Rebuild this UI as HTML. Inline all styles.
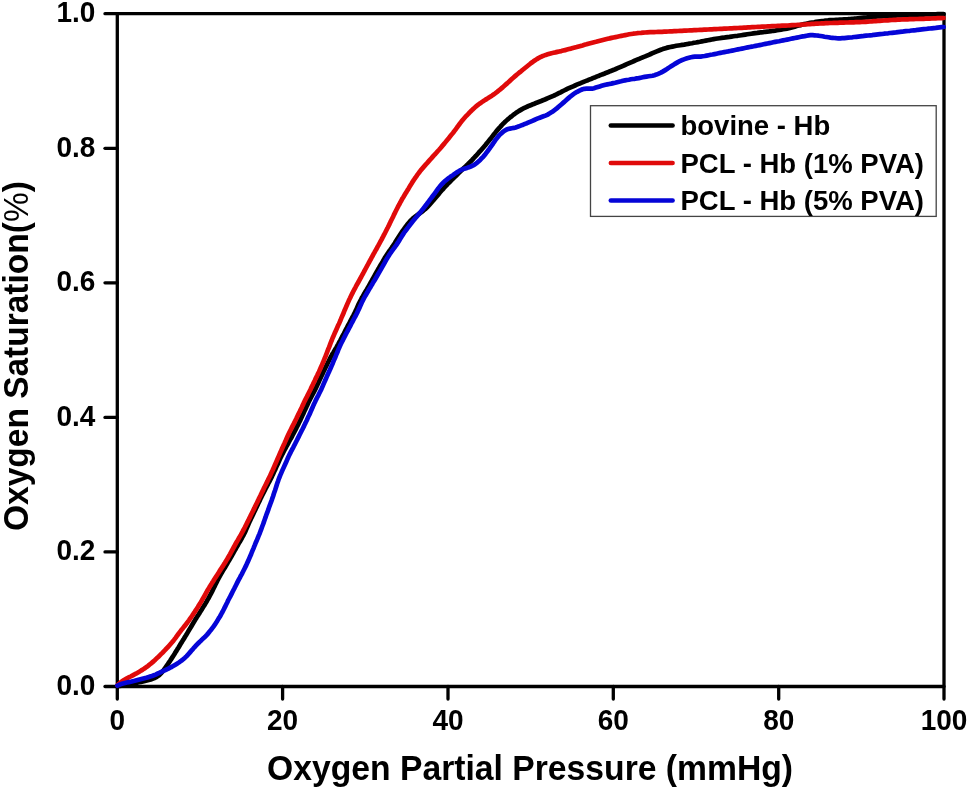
<!DOCTYPE html>
<html><head><meta charset="utf-8"><style>
html,body{margin:0;padding:0;background:#fff;}
svg{display:block;will-change:transform;}
text{font-family:"Liberation Sans",sans-serif;font-weight:bold;fill:#000;}
</style></head><body>
<svg width="968" height="790" viewBox="0 0 968 790">
<rect x="0" y="0" width="968" height="790" fill="#fff"/>
<g stroke="#000" stroke-width="3.3" stroke-linecap="round" fill="none">
<line x1="117.3" y1="686.5" x2="117.3" y2="699"/><line x1="105" y1="686.5" x2="117.3" y2="686.5"/><line x1="282.6" y1="686.5" x2="282.6" y2="699"/><line x1="105" y1="551.9" x2="117.3" y2="551.9"/><line x1="448.0" y1="686.5" x2="448.0" y2="699"/><line x1="105" y1="417.4" x2="117.3" y2="417.4"/><line x1="613.3" y1="686.5" x2="613.3" y2="699"/><line x1="105" y1="282.8" x2="117.3" y2="282.8"/><line x1="778.7" y1="686.5" x2="778.7" y2="699"/><line x1="105" y1="148.3" x2="117.3" y2="148.3"/><line x1="944.0" y1="686.5" x2="944.0" y2="699"/><line x1="105" y1="13.7" x2="117.3" y2="13.7"/>
<rect x="117.3" y="13.7" width="826.7" height="672.8" stroke-linejoin="round"/>
</g>
<g font-size="28"><text transform="translate(117.3,729.6) scale(1,1.07)" text-anchor="middle">0</text><text transform="translate(282.6,729.6) scale(1,1.07)" text-anchor="middle">20</text><text transform="translate(448.0,729.6) scale(1,1.07)" text-anchor="middle">40</text><text transform="translate(613.3,729.6) scale(1,1.07)" text-anchor="middle">60</text><text transform="translate(778.7,729.6) scale(1,1.07)" text-anchor="middle">80</text><text transform="translate(944.0,729.6) scale(1,1.07)" text-anchor="middle">100</text><text transform="translate(95.3,694.7) scale(1,1.07)" text-anchor="end">0.0</text><text transform="translate(95.3,560.1) scale(1,1.07)" text-anchor="end">0.2</text><text transform="translate(95.3,425.6) scale(1,1.07)" text-anchor="end">0.4</text><text transform="translate(95.3,291.0) scale(1,1.07)" text-anchor="end">0.6</text><text transform="translate(95.3,156.5) scale(1,1.07)" text-anchor="end">0.8</text><text transform="translate(95.3,21.9) scale(1,1.07)" text-anchor="end">1.0</text></g>
<g fill="none" stroke-width="4.7" stroke-linecap="round" stroke-linejoin="round">
<path d="M117.4,686.3 L119.4,686.0 L121.3,685.6 L123.3,685.3 L125.3,685.0 L127.3,684.6 L129.2,684.2 L131.2,683.9 L133.1,683.5 L135.1,683.1 L137.1,682.7 L139.0,682.3 L141.0,681.9 L142.9,681.5 L144.9,681.0 L146.8,680.5 L148.8,680.0 L150.7,679.5 L152.5,678.8 L154.4,678.1 L156.1,677.2 L157.8,676.1 L159.3,675.0 L160.7,673.6 L162.0,672.1 L163.3,670.6 L164.5,669.0 L165.6,667.4 L166.8,665.7 L167.9,664.1 L169.0,662.4 L170.1,660.8 L171.2,659.1 L172.3,657.4 L173.4,655.7 L174.5,654.0 L175.5,652.3 L176.6,650.6 L177.6,648.9 L178.7,647.2 L179.7,645.5 L180.7,643.8 L181.8,642.1 L182.8,640.4 L183.9,638.7 L184.9,637.0 L186.0,635.3 L187.0,633.6 L188.0,631.9 L189.1,630.1 L190.1,628.4 L191.1,626.7 L192.1,625.0 L193.1,623.3 L194.2,621.5 L195.2,619.8 L196.3,618.1 L197.3,616.4 L198.4,614.8 L199.5,613.1 L200.5,611.4 L201.6,609.7 L202.6,608.0 L203.7,606.3 L204.8,604.6 L205.8,602.9 L206.8,601.2 L207.8,599.4 L208.8,597.7 L209.7,595.9 L210.7,594.1 L211.6,592.4 L212.5,590.6 L213.4,588.8 L214.3,587.0 L215.1,585.2 L216.0,583.4 L216.9,581.6 L217.8,579.8 L218.7,578.1 L219.7,576.3 L220.7,574.6 L221.7,572.9 L222.7,571.1 L223.7,569.4 L224.8,567.7 L225.8,566.0 L226.8,564.3 L227.8,562.5 L228.9,560.8 L229.9,559.1 L230.9,557.4 L231.9,555.6 L232.9,553.9 L233.8,552.2 L234.8,550.4 L235.8,548.7 L236.8,546.9 L237.8,545.2 L238.7,543.4 L239.8,541.7 L240.8,540.0 L241.8,538.3 L242.7,536.5 L243.7,534.8 L244.6,533.0 L245.4,531.2 L246.2,529.3 L247.0,527.5 L247.8,525.7 L248.6,523.8 L249.4,522.0 L250.3,520.2 L251.1,518.4 L252.0,516.6 L252.9,514.8 L253.7,513.0 L254.6,511.2 L255.5,509.4 L256.3,507.6 L257.2,505.8 L258.0,504.0 L258.9,502.2 L259.8,500.4 L260.6,498.5 L261.5,496.8 L262.4,495.0 L263.3,493.2 L264.2,491.4 L265.1,489.6 L266.0,487.8 L266.9,486.1 L267.9,484.3 L268.8,482.5 L269.8,480.8 L270.7,479.0 L271.6,477.2 L272.4,475.4 L273.3,473.6 L274.1,471.8 L275.0,470.0 L275.8,468.1 L276.6,466.3 L277.5,464.5 L278.3,462.7 L279.5,460.0 L280.4,458.1 L281.3,456.3 L282.1,454.6 L283.1,452.8 L284.0,451.0 L284.9,449.2 L285.9,447.5 L286.8,445.7 L287.8,444.0 L288.8,442.2 L289.7,440.5 L290.7,438.7 L291.7,437.0 L292.6,435.2 L293.6,433.4 L294.5,431.7 L295.4,429.9 L296.3,428.1 L297.2,426.3 L298.1,424.6 L299.0,422.8 L299.9,421.0 L300.7,419.2 L301.6,417.3 L302.4,415.5 L303.3,413.7 L304.1,411.9 L304.9,410.1 L305.8,408.3 L306.6,406.4 L307.5,404.6 L308.3,402.8 L309.2,401.0 L310.1,399.2 L311.0,397.5 L311.9,395.7 L312.9,393.9 L313.8,392.2 L314.7,390.4 L315.6,388.6 L316.5,386.8 L317.3,385.0 L318.2,383.2 L319.0,381.4 L319.8,379.5 L320.7,377.7 L321.5,375.9 L322.4,374.1 L323.2,372.3 L324.1,370.5 L324.9,368.7 L325.8,366.9 L326.7,365.1 L327.6,363.3 L328.5,361.5 L329.4,359.7 L330.3,357.9 L331.3,356.2 L332.2,354.4 L333.3,352.7 L334.3,351.0 L335.3,349.3 L336.3,347.6 L337.3,345.8 L338.3,344.1 L339.2,342.3 L340.2,340.6 L341.1,338.8 L342.0,337.0 L343.0,335.2 L343.9,333.5 L344.8,331.7 L345.7,329.9 L346.7,328.2 L347.6,326.4 L348.5,324.6 L349.5,322.9 L350.4,321.1 L351.3,319.3 L352.3,317.5 L353.2,315.8 L354.1,314.0 L355.0,312.2 L355.9,310.4 L356.7,308.6 L357.5,306.8 L358.3,304.9 L359.2,303.1 L360.1,301.3 L361.0,299.6 L361.9,297.8 L362.9,296.1 L363.9,294.3 L364.9,292.6 L366.0,290.9 L367.0,289.2 L368.0,287.4 L369.0,285.7 L369.9,284.0 L370.9,282.2 L371.9,280.5 L372.9,278.7 L373.9,277.0 L374.8,275.2 L375.8,273.5 L376.8,271.8 L377.8,270.0 L378.8,268.3 L379.8,266.5 L380.8,264.8 L381.8,263.1 L382.8,261.4 L383.8,259.6 L384.8,257.9 L385.9,256.2 L387.0,254.5 L388.1,252.9 L389.2,251.2 L390.4,249.6 L391.5,248.0 L392.6,246.3 L393.8,244.7 L394.9,243.0 L395.9,241.3 L397.0,239.6 L398.1,237.9 L399.1,236.2 L400.2,234.5 L401.3,232.9 L402.4,231.2 L403.6,229.6 L404.8,228.0 L405.9,226.4 L407.1,224.8 L408.4,223.2 L409.7,221.7 L411.0,220.3 L412.5,218.9 L414.0,217.6 L415.5,216.4 L417.1,215.2 L418.8,214.0 L420.4,212.8 L422.0,211.7 L423.5,210.4 L425.1,209.2 L426.6,207.8 L428.0,206.4 L429.3,205.0 L430.6,203.5 L431.9,202.0 L433.2,200.5 L434.5,198.9 L435.8,197.4 L437.1,195.9 L438.4,194.4 L439.7,192.8 L441.0,191.3 L442.3,189.8 L443.7,188.3 L445.0,186.8 L446.4,185.4 L447.7,183.9 L449.2,182.5 L450.6,181.1 L452.0,179.7 L453.4,178.3 L454.9,176.9 L456.3,175.5 L457.7,174.1 L459.1,172.7 L460.5,171.3 L462.0,169.9 L463.4,168.5 L464.8,167.1 L466.3,165.7 L467.7,164.3 L469.1,162.9 L470.6,161.5 L472.0,160.1 L473.3,158.6 L474.7,157.2 L476.1,155.7 L477.4,154.2 L478.7,152.7 L480.1,151.2 L481.4,149.7 L482.7,148.2 L484.0,146.7 L485.3,145.2 L486.6,143.6 L487.8,142.1 L489.1,140.5 L490.3,139.0 L491.6,137.4 L492.8,135.8 L494.0,134.2 L495.3,132.7 L496.5,131.1 L497.8,129.6 L499.1,128.1 L500.5,126.6 L501.8,125.1 L503.2,123.7 L504.6,122.3 L506.1,120.9 L507.5,119.6 L509.1,118.3 L510.6,117.0 L512.2,115.8 L513.8,114.5 L515.4,113.4 L517.0,112.2 L518.7,111.1 L520.4,110.1 L522.1,109.1 L523.9,108.2 L525.7,107.3 L527.5,106.5 L529.3,105.7 L531.2,105.0 L533.0,104.2 L534.9,103.5 L536.7,102.7 L538.6,102.0 L540.5,101.3 L542.3,100.5 L544.2,99.8 L546.0,99.0 L547.9,98.2 L549.7,97.4 L551.5,96.6 L553.4,95.8 L555.2,95.0 L557.0,94.1 L558.8,93.2 L560.6,92.3 L562.3,91.4 L564.1,90.5 L565.9,89.6 L567.7,88.7 L569.5,87.9 L571.3,87.1 L573.2,86.3 L575.0,85.5 L576.8,84.7 L578.7,83.9 L580.5,83.2 L582.4,82.4 L584.2,81.6 L586.1,80.9 L587.9,80.2 L589.8,79.4 L591.7,78.7 L593.5,77.9 L595.4,77.2 L597.2,76.4 L599.1,75.7 L600.9,74.9 L602.8,74.2 L604.7,73.5 L606.5,72.7 L608.4,72.0 L610.2,71.2 L612.1,70.5 L613.9,69.8 L615.8,69.0 L617.6,68.2 L619.5,67.4 L621.3,66.6 L623.1,65.8 L625.0,65.0 L626.8,64.2 L628.6,63.4 L630.4,62.6 L632.3,61.8 L634.1,61.0 L636.0,60.2 L637.8,59.4 L639.6,58.7 L641.5,57.9 L643.3,57.1 L645.2,56.4 L647.0,55.6 L648.9,54.8 L650.7,54.0 L652.5,53.2 L654.4,52.4 L656.2,51.6 L659.0,50.5 L660.8,49.8 L662.7,49.1 L664.6,48.5 L666.5,47.9 L668.5,47.4 L670.4,47.0 L672.4,46.6 L674.3,46.2 L676.3,45.8 L678.3,45.5 L680.2,45.2 L682.2,44.9 L684.2,44.6 L686.2,44.2 L688.1,43.9 L690.1,43.5 L692.1,43.2 L694.0,42.8 L696.0,42.5 L698.0,42.1 L699.9,41.8 L701.9,41.4 L703.9,41.0 L705.8,40.6 L707.8,40.2 L709.8,39.9 L711.7,39.5 L713.7,39.1 L715.7,38.8 L717.6,38.5 L719.6,38.2 L721.6,37.9 L723.6,37.7 L725.6,37.4 L727.5,37.1 L729.5,36.9 L731.5,36.6 L733.5,36.3 L735.5,36.0 L737.5,35.8 L739.4,35.5 L741.4,35.2 L743.4,34.9 L745.4,34.6 L747.3,34.3 L749.3,34.0 L751.3,33.7 L753.3,33.4 L755.3,33.1 L757.2,32.9 L759.2,32.6 L761.2,32.3 L763.2,32.1 L765.2,31.8 L767.2,31.6 L769.1,31.4 L771.1,31.1 L773.1,30.8 L775.1,30.6 L777.1,30.3 L779.0,30.0 L781.0,29.7 L783.0,29.3 L785.0,29.0 L786.9,28.6 L788.9,28.2 L790.8,27.7 L792.8,27.2 L794.7,26.7 L796.6,26.1 L798.5,25.6 L800.5,25.1 L802.4,24.6 L804.3,24.1 L806.3,23.7 L808.2,23.3 L810.2,22.9 L812.2,22.6 L814.2,22.3 L816.1,21.9 L818.1,21.6 L820.1,21.3 L822.1,21.0 L824.0,20.8 L826.0,20.5 L828.0,20.4 L830.0,20.2 L832.0,20.1 L834.0,20.0 L836.0,19.9 L838.0,19.8 L840.0,19.6 L842.0,19.5 L844.0,19.4 L846.0,19.3 L848.0,19.2 L850.0,19.0 L852.0,18.8 L853.9,18.7 L855.9,18.5 L857.9,18.3 L859.9,18.1 L861.9,17.9 L863.9,17.7 L865.9,17.5 L867.9,17.3 L869.9,17.1 L871.9,16.9 L873.9,16.8 L875.9,16.6 L877.8,16.5 L879.8,16.4 L881.8,16.3 L883.8,16.2 L885.8,16.1 L887.8,16.0 L889.8,15.9 L891.8,15.8 L893.8,15.7 L895.8,15.6 L897.8,15.5 L899.8,15.4 L901.8,15.3 L903.8,15.2 L905.8,15.1 L907.8,15.0 L909.8,15.0 L911.8,14.9 L913.8,14.9 L915.8,14.8 L917.8,14.8 L919.8,14.7 L921.8,14.7 L923.8,14.6 L925.8,14.5 L927.8,14.5 L929.8,14.4 L931.8,14.4 L933.8,14.3 L935.8,14.3 L937.8,14.2 L939.7,14.2 L941.7,14.1 L943.6,14.1" stroke="#000"/>
<path d="M117.4,685.2 L118.9,683.9 L120.3,682.6 L121.9,681.4 L123.6,680.3 L125.3,679.3 L127.0,678.3 L128.8,677.4 L130.6,676.5 L132.3,675.6 L134.1,674.6 L135.9,673.7 L137.6,672.7 L139.3,671.7 L141.0,670.6 L142.7,669.6 L144.4,668.5 L146.0,667.3 L147.7,666.2 L149.2,664.9 L150.8,663.7 L152.3,662.4 L153.8,661.1 L155.3,659.7 L156.7,658.3 L158.2,657.0 L159.6,655.6 L161.0,654.2 L162.4,652.8 L163.8,651.3 L165.2,649.9 L166.6,648.4 L168.0,647.0 L169.3,645.5 L170.6,644.0 L171.9,642.5 L173.2,640.9 L174.4,639.4 L175.6,637.8 L176.8,636.1 L178.0,634.5 L179.2,632.9 L180.4,631.3 L181.6,629.7 L182.9,628.2 L184.1,626.6 L185.4,625.1 L186.6,623.5 L187.8,621.9 L189.0,620.3 L190.1,618.7 L191.3,617.0 L192.4,615.4 L193.5,613.7 L194.6,612.1 L195.7,610.4 L196.8,608.7 L197.9,607.0 L198.9,605.3 L200.0,603.6 L201.0,601.9 L202.0,600.2 L203.0,598.4 L204.0,596.7 L205.0,595.0 L205.9,593.2 L206.9,591.5 L207.9,589.7 L209.0,588.0 L210.0,586.3 L211.1,584.6 L212.1,582.9 L213.2,581.2 L214.2,579.5 L215.3,577.8 L216.4,576.2 L217.5,574.5 L218.6,572.8 L219.6,571.1 L220.7,569.4 L221.8,567.7 L222.9,566.1 L223.9,564.4 L225.0,562.7 L226.0,561.0 L227.1,559.3 L228.1,557.5 L229.1,555.8 L230.1,554.1 L231.0,552.3 L232.0,550.5 L232.9,548.8 L233.9,547.0 L234.8,545.3 L235.8,543.5 L236.8,541.8 L237.8,540.1 L238.8,538.3 L239.8,536.6 L240.8,534.9 L241.8,533.1 L242.7,531.4 L243.6,529.6 L244.6,527.8 L245.5,526.0 L246.4,524.2 L247.3,522.4 L248.2,520.7 L249.1,518.9 L250.0,517.1 L250.8,515.3 L251.7,513.5 L252.6,511.7 L253.5,509.9 L254.4,508.1 L255.2,506.3 L256.1,504.5 L257.0,502.7 L257.9,500.9 L258.7,499.1 L259.6,497.3 L260.5,495.5 L261.3,493.7 L262.2,491.9 L263.1,490.1 L263.9,488.3 L264.8,486.5 L265.7,484.7 L266.6,482.9 L267.5,481.1 L268.3,479.3 L269.2,477.5 L270.1,475.7 L270.9,473.9 L271.7,472.1 L272.6,470.3 L273.4,468.5 L274.2,466.6 L275.0,464.8 L275.8,463.0 L276.6,461.1 L277.4,459.3 L278.2,457.4 L279.0,455.6 L279.8,453.8 L280.6,451.9 L281.4,450.1 L282.2,448.3 L283.4,445.6 L284.3,443.7 L285.1,441.9 L285.9,440.1 L286.7,438.3 L287.5,436.4 L288.4,434.6 L289.2,432.8 L290.1,431.0 L291.0,429.2 L291.9,427.4 L292.8,425.6 L293.7,423.9 L294.6,422.1 L295.5,420.3 L296.4,418.5 L297.2,416.7 L298.1,414.9 L299.0,413.1 L299.9,411.3 L300.7,409.5 L301.6,407.7 L302.4,405.9 L303.3,404.1 L304.1,402.2 L305.0,400.4 L305.9,398.6 L306.8,396.9 L307.7,395.1 L308.6,393.3 L309.5,391.5 L310.4,389.7 L311.2,387.9 L312.1,386.1 L313.0,384.3 L313.8,382.5 L314.7,380.7 L315.5,378.9 L316.4,377.1 L317.3,375.3 L318.1,373.5 L319.0,371.7 L319.8,369.8 L320.6,368.0 L321.4,366.2 L322.2,364.4 L323.0,362.5 L323.8,360.7 L324.5,358.8 L325.3,357.0 L326.0,355.1 L326.7,353.2 L327.4,351.4 L328.1,349.5 L328.9,347.6 L329.6,345.8 L330.3,343.9 L331.0,342.0 L331.8,340.2 L332.5,338.3 L333.3,336.5 L334.1,334.6 L334.9,332.8 L335.7,331.0 L336.5,329.2 L337.3,327.3 L338.1,325.5 L339.0,323.7 L339.8,321.9 L340.6,320.0 L341.3,318.2 L342.1,316.3 L342.9,314.5 L343.7,312.7 L344.4,310.8 L345.2,309.0 L346.0,307.1 L346.8,305.3 L347.6,303.4 L348.4,301.6 L349.2,299.8 L350.1,298.0 L350.9,296.2 L351.8,294.4 L352.7,292.6 L353.6,290.8 L354.5,289.1 L355.5,287.3 L356.4,285.5 L357.4,283.8 L358.4,282.0 L359.3,280.3 L360.3,278.5 L361.3,276.8 L362.2,275.0 L363.2,273.3 L364.1,271.5 L365.1,269.7 L366.0,268.0 L367.0,266.2 L367.9,264.5 L368.9,262.7 L369.8,260.9 L370.8,259.2 L371.7,257.4 L372.7,255.7 L373.6,253.9 L374.6,252.2 L375.6,250.4 L376.6,248.7 L377.5,246.9 L378.5,245.2 L379.5,243.4 L380.4,241.7 L381.4,239.9 L382.3,238.1 L383.2,236.4 L384.1,234.6 L385.1,232.8 L386.0,231.0 L386.9,229.2 L387.8,227.5 L388.7,225.7 L389.6,223.9 L390.4,222.1 L391.3,220.3 L392.2,218.5 L393.1,216.7 L393.9,214.9 L394.8,213.1 L395.7,211.3 L396.6,209.5 L397.5,207.7 L398.4,205.9 L399.4,204.2 L400.3,202.4 L401.3,200.7 L402.2,198.9 L403.3,197.2 L404.3,195.5 L405.3,193.8 L406.4,192.1 L407.4,190.4 L408.5,188.7 L409.5,186.9 L410.5,185.2 L411.6,183.5 L412.6,181.8 L413.7,180.2 L414.8,178.5 L416.0,176.9 L417.1,175.2 L418.3,173.6 L419.5,172.0 L420.7,170.4 L422.0,168.9 L423.3,167.4 L424.6,165.9 L425.9,164.4 L427.3,162.9 L428.6,161.4 L429.9,159.9 L431.3,158.4 L432.6,156.9 L433.9,155.4 L435.3,154.0 L436.6,152.5 L437.9,151.0 L439.3,149.5 L440.6,148.0 L441.9,146.4 L443.2,144.9 L444.5,143.4 L445.7,141.9 L447.0,140.3 L448.3,138.8 L449.5,137.2 L450.8,135.6 L452.0,134.1 L453.3,132.5 L454.5,130.9 L455.7,129.3 L456.9,127.7 L458.0,126.1 L459.2,124.5 L460.4,122.9 L461.6,121.3 L462.9,119.7 L464.2,118.2 L465.5,116.7 L466.9,115.3 L468.3,113.9 L469.7,112.4 L471.1,111.0 L472.5,109.6 L474.0,108.3 L475.5,106.9 L477.0,105.7 L478.6,104.4 L480.2,103.3 L481.8,102.1 L483.5,101.0 L485.2,99.9 L486.9,98.9 L488.6,97.8 L490.2,96.8 L491.9,95.7 L493.6,94.5 L495.2,93.4 L496.8,92.2 L498.3,90.9 L499.9,89.7 L501.4,88.4 L502.9,87.1 L504.4,85.7 L505.9,84.4 L507.4,83.1 L508.9,81.7 L510.4,80.4 L511.8,79.0 L513.3,77.7 L514.8,76.4 L516.3,75.1 L517.9,73.8 L519.4,72.5 L521.0,71.3 L522.5,70.0 L524.1,68.7 L525.6,67.5 L527.2,66.2 L528.7,65.0 L530.3,63.7 L531.9,62.5 L533.5,61.3 L535.1,60.2 L536.8,59.1 L538.5,58.1 L540.3,57.2 L542.1,56.3 L543.9,55.6 L545.8,54.9 L547.7,54.3 L549.6,53.7 L551.5,53.2 L553.5,52.8 L555.4,52.4 L557.4,51.9 L559.3,51.5 L561.3,51.1 L563.2,50.6 L565.2,50.1 L567.1,49.6 L569.0,49.1 L571.0,48.6 L572.9,48.0 L574.8,47.5 L576.7,47.0 L578.7,46.4 L580.6,45.9 L582.5,45.4 L584.5,44.8 L586.4,44.3 L588.3,43.7 L590.2,43.2 L592.2,42.7 L594.1,42.2 L596.0,41.8 L598.0,41.3 L599.9,40.8 L601.9,40.3 L603.8,39.8 L605.7,39.3 L607.7,38.8 L609.6,38.4 L611.6,37.9 L613.5,37.5 L615.5,37.1 L617.4,36.7 L619.4,36.3 L621.4,35.9 L623.3,35.5 L625.3,35.1 L627.2,34.7 L629.2,34.3 L631.2,34.0 L633.2,33.7 L635.1,33.5 L637.1,33.2 L639.1,33.0 L641.1,32.9 L643.1,32.7 L645.1,32.5 L647.1,32.4 L650.1,32.2 L652.1,32.1 L654.1,32.1 L656.1,32.0 L658.1,31.9 L660.1,31.8 L662.1,31.8 L664.1,31.7 L666.1,31.6 L668.1,31.5 L670.1,31.4 L672.1,31.3 L674.1,31.2 L676.0,31.1 L678.0,31.0 L680.0,30.9 L682.0,30.8 L684.0,30.7 L686.0,30.6 L688.0,30.5 L690.0,30.4 L692.0,30.3 L694.0,30.2 L696.0,30.1 L698.0,30.0 L700.0,29.9 L702.0,29.8 L704.0,29.7 L706.0,29.6 L708.0,29.5 L710.0,29.4 L712.0,29.3 L714.0,29.2 L716.0,29.1 L718.0,29.0 L720.0,28.9 L722.0,28.8 L724.0,28.7 L726.0,28.6 L728.0,28.5 L730.0,28.4 L732.0,28.3 L734.0,28.2 L736.0,28.1 L738.0,28.0 L740.0,27.9 L742.0,27.8 L744.0,27.7 L746.0,27.6 L748.0,27.4 L750.0,27.3 L752.0,27.2 L753.9,27.1 L755.9,27.0 L757.9,26.9 L759.9,26.8 L761.9,26.7 L763.9,26.6 L765.9,26.5 L767.9,26.4 L769.9,26.3 L771.9,26.2 L773.9,26.1 L775.9,26.0 L777.9,25.9 L779.9,25.8 L781.9,25.7 L783.9,25.6 L785.9,25.6 L787.9,25.5 L789.9,25.3 L791.9,25.2 L793.9,25.1 L795.9,25.0 L797.9,24.9 L799.9,24.8 L801.9,24.6 L803.9,24.5 L805.9,24.4 L807.9,24.2 L809.9,24.1 L811.9,23.9 L813.9,23.8 L815.8,23.7 L817.8,23.6 L819.8,23.5 L821.8,23.4 L823.8,23.3 L825.8,23.2 L827.8,23.1 L829.8,23.0 L831.8,23.0 L833.8,22.9 L835.8,22.8 L837.8,22.8 L839.8,22.7 L841.8,22.6 L843.8,22.6 L845.8,22.5 L847.8,22.5 L849.8,22.4 L851.8,22.3 L853.8,22.3 L855.8,22.2 L857.8,22.1 L859.8,22.1 L861.8,22.0 L863.8,21.9 L865.8,21.8 L867.8,21.7 L869.8,21.5 L871.8,21.4 L873.8,21.2 L875.8,21.1 L877.8,20.9 L879.8,20.8 L881.8,20.7 L883.8,20.5 L885.8,20.4 L887.8,20.3 L889.7,20.1 L891.7,20.0 L893.7,19.9 L895.7,19.8 L897.7,19.7 L899.7,19.6 L901.7,19.5 L903.7,19.4 L905.7,19.3 L907.7,19.3 L909.7,19.2 L911.7,19.1 L913.7,19.1 L915.7,19.0 L917.7,19.0 L919.7,18.9 L921.7,18.9 L923.7,18.8 L925.7,18.7 L927.7,18.7 L929.7,18.6 L931.7,18.5 L933.7,18.4 L935.7,18.3 L937.7,18.2 L939.7,18.2 L941.6,18.1 L943.6,18.0" stroke="#e00a0a"/>
<path d="M117.4,685.6 L119.2,684.8 L121.1,684.1 L123.0,683.5 L124.9,683.0 L126.9,682.5 L128.8,682.1 L130.8,681.7 L132.7,681.2 L134.7,680.8 L136.6,680.3 L138.5,679.8 L140.5,679.3 L142.4,678.8 L144.4,678.3 L146.3,677.8 L148.2,677.2 L150.1,676.6 L152.0,676.0 L153.9,675.3 L155.7,674.6 L157.5,673.7 L159.3,672.8 L161.1,672.0 L162.9,671.1 L164.7,670.3 L166.6,669.5 L168.4,668.6 L170.1,667.7 L171.9,666.8 L173.6,665.8 L175.4,664.7 L177.0,663.7 L178.7,662.6 L180.4,661.4 L182.0,660.3 L183.5,659.0 L185.0,657.7 L186.4,656.3 L187.8,654.8 L189.1,653.4 L190.4,651.9 L191.7,650.3 L193.1,648.8 L194.4,647.3 L195.7,645.9 L197.1,644.4 L198.5,643.0 L199.9,641.6 L201.4,640.2 L202.8,638.8 L204.3,637.5 L205.7,636.1 L207.1,634.6 L208.4,633.1 L209.6,631.5 L210.9,630.0 L212.1,628.4 L213.3,626.8 L214.5,625.2 L215.6,623.5 L216.7,621.8 L217.7,620.1 L218.7,618.4 L219.8,616.7 L220.8,615.0 L221.7,613.2 L222.7,611.5 L223.6,609.7 L224.5,607.9 L225.4,606.1 L226.3,604.3 L227.2,602.5 L228.0,600.7 L228.9,599.0 L229.9,597.2 L230.8,595.4 L231.7,593.6 L232.6,591.8 L233.5,590.0 L234.4,588.3 L235.3,586.5 L236.2,584.7 L237.1,582.9 L238.0,581.1 L238.9,579.4 L239.9,577.6 L240.8,575.8 L241.8,574.1 L242.7,572.3 L243.6,570.5 L244.5,568.7 L245.4,566.9 L246.3,565.1 L247.1,563.3 L247.9,561.5 L248.7,559.7 L249.5,557.8 L250.3,556.0 L251.1,554.2 L251.8,552.3 L252.6,550.4 L253.4,548.6 L254.1,546.7 L254.9,544.9 L255.6,543.0 L256.4,541.2 L257.2,539.4 L258.0,537.5 L258.7,535.7 L259.5,533.8 L260.2,532.0 L260.9,530.1 L261.6,528.2 L262.3,526.3 L263.0,524.5 L263.7,522.6 L264.3,520.7 L265.0,518.8 L265.7,516.9 L266.3,515.0 L267.0,513.1 L267.7,511.3 L268.4,509.4 L269.0,507.5 L269.7,505.6 L270.4,503.7 L271.1,501.9 L271.8,500.0 L272.4,498.1 L273.1,496.2 L273.7,494.3 L274.3,492.4 L275.0,490.5 L275.6,488.6 L276.2,486.7 L276.8,484.8 L277.4,482.9 L278.1,481.0 L278.7,479.1 L279.5,477.3 L280.2,475.4 L281.0,473.6 L281.8,471.7 L282.6,469.9 L283.4,468.1 L284.7,465.3 L285.5,463.5 L286.3,461.7 L287.1,459.9 L287.9,458.0 L288.7,456.2 L289.6,454.4 L290.5,452.6 L291.4,450.8 L292.3,449.1 L293.3,447.3 L294.2,445.5 L295.1,443.8 L296.0,442.0 L296.9,440.2 L297.8,438.4 L298.7,436.6 L299.6,434.8 L300.5,433.0 L301.4,431.2 L302.3,429.5 L303.2,427.7 L304.1,425.9 L304.9,424.1 L305.8,422.3 L306.7,420.5 L307.5,418.6 L308.3,416.8 L309.2,415.0 L310.0,413.2 L310.8,411.4 L311.6,409.5 L312.4,407.7 L313.2,405.9 L314.0,404.0 L314.9,402.2 L315.7,400.4 L316.6,398.6 L317.5,396.8 L318.4,395.1 L319.3,393.3 L320.2,391.5 L321.1,389.7 L321.9,387.9 L322.7,386.1 L323.5,384.2 L324.3,382.4 L325.1,380.5 L325.9,378.7 L326.7,376.9 L327.5,375.0 L328.3,373.2 L329.2,371.4 L330.0,369.6 L330.8,367.8 L331.6,365.9 L332.4,364.1 L333.1,362.2 L333.9,360.4 L334.7,358.5 L335.5,356.7 L336.2,354.9 L337.0,353.0 L337.8,351.2 L338.5,349.3 L339.3,347.5 L340.1,345.6 L341.0,343.8 L341.9,342.0 L342.8,340.3 L343.7,338.5 L344.6,336.7 L345.5,334.9 L346.4,333.2 L347.4,331.4 L348.3,329.6 L349.2,327.9 L350.2,326.1 L351.1,324.3 L352.0,322.5 L353.0,320.8 L353.9,319.0 L354.8,317.2 L355.8,315.5 L356.7,313.7 L357.6,311.9 L358.4,310.1 L359.3,308.3 L360.1,306.4 L360.9,304.6 L361.7,302.8 L362.6,301.0 L363.5,299.2 L364.4,297.5 L365.4,295.7 L366.4,294.0 L367.4,292.3 L368.4,290.5 L369.4,288.8 L370.5,287.1 L371.5,285.4 L372.5,283.7 L373.5,281.9 L374.6,280.2 L375.6,278.5 L376.6,276.8 L377.6,275.0 L378.6,273.3 L379.6,271.6 L380.6,269.9 L381.6,268.1 L382.6,266.4 L383.6,264.6 L384.6,262.9 L385.5,261.2 L386.5,259.4 L387.5,257.7 L388.6,256.0 L389.6,254.3 L390.8,252.7 L391.9,251.0 L393.1,249.4 L394.3,247.8 L395.5,246.2 L396.6,244.6 L397.7,242.9 L398.8,241.2 L399.8,239.5 L400.9,237.8 L401.9,236.1 L403.0,234.4 L404.1,232.7 L405.3,231.1 L406.5,229.5 L407.7,227.9 L408.9,226.3 L410.1,224.8 L411.3,223.2 L412.6,221.6 L413.8,220.1 L415.1,218.5 L416.4,217.0 L417.7,215.4 L419.0,213.9 L420.3,212.4 L421.5,210.8 L422.8,209.3 L424.0,207.7 L425.2,206.1 L426.5,204.5 L427.6,202.9 L428.8,201.3 L430.0,199.7 L431.2,198.1 L432.4,196.5 L433.6,194.9 L434.8,193.3 L436.0,191.7 L437.1,190.1 L438.3,188.4 L439.5,186.9 L440.8,185.3 L442.1,183.8 L443.5,182.4 L445.0,181.0 L446.5,179.8 L448.1,178.5 L449.7,177.4 L451.3,176.2 L453.0,175.1 L454.6,173.9 L456.3,172.8 L457.9,171.7 L459.6,170.7 L461.4,169.8 L463.3,169.1 L465.1,168.5 L467.0,167.9 L468.9,167.2 L470.8,166.5 L472.6,165.7 L474.3,164.7 L475.9,163.6 L477.5,162.4 L479.0,161.0 L480.4,159.7 L481.8,158.2 L483.2,156.8 L484.5,155.2 L485.7,153.7 L486.9,152.1 L488.1,150.5 L489.3,148.9 L490.5,147.2 L491.6,145.6 L492.8,144.0 L493.9,142.3 L495.0,140.7 L496.2,139.0 L497.4,137.5 L498.7,135.9 L500.0,134.5 L501.5,133.2 L503.0,131.9 L504.6,130.7 L506.2,129.7 L508.0,129.0 L509.9,128.6 L511.8,128.2 L513.8,127.9 L515.7,127.4 L517.6,126.8 L519.5,126.1 L521.3,125.4 L523.2,124.7 L525.0,123.9 L526.9,123.2 L528.7,122.4 L530.6,121.6 L532.4,120.8 L534.3,120.0 L536.1,119.2 L537.9,118.4 L539.8,117.7 L541.6,117.0 L543.5,116.3 L545.4,115.6 L547.2,114.8 L548.9,113.9 L550.6,112.8 L552.3,111.8 L553.9,110.6 L555.5,109.4 L557.1,108.1 L558.6,106.8 L560.1,105.5 L561.6,104.2 L563.1,102.9 L564.6,101.6 L566.1,100.2 L567.6,98.9 L569.1,97.6 L570.6,96.3 L572.2,95.1 L573.8,93.9 L575.5,92.8 L577.2,91.8 L579.0,90.9 L580.8,90.0 L582.6,89.3 L584.5,88.8 L586.4,88.7 L588.3,88.7 L590.2,88.7 L592.1,88.6 L594.0,88.2 L595.9,87.6 L597.8,87.0 L599.7,86.4 L601.6,85.8 L603.5,85.3 L605.5,84.8 L607.4,84.4 L609.4,84.0 L611.3,83.6 L613.3,83.1 L615.2,82.7 L617.2,82.2 L619.1,81.7 L621.1,81.3 L623.0,80.8 L625.0,80.4 L626.9,80.0 L628.9,79.7 L630.9,79.3 L632.8,79.0 L634.8,78.8 L636.8,78.4 L638.8,78.1 L640.7,77.7 L642.7,77.3 L644.6,76.9 L646.6,76.6 L648.6,76.3 L650.6,76.0 L652.5,75.7 L654.4,75.2 L656.3,74.6 L658.2,73.8 L660.9,72.6 L662.7,71.6 L664.4,70.6 L666.1,69.6 L667.7,68.5 L669.4,67.4 L671.1,66.3 L672.8,65.2 L674.5,64.1 L676.2,63.1 L677.9,62.1 L679.7,61.2 L681.5,60.3 L683.3,59.6 L685.2,58.9 L687.1,58.2 L689.0,57.7 L690.9,57.2 L692.9,56.9 L694.8,56.7 L696.8,56.7 L698.8,56.7 L700.7,56.6 L702.7,56.3 L704.7,56.0 L706.6,55.6 L708.6,55.2 L710.6,54.8 L712.5,54.5 L714.5,54.1 L716.5,53.7 L718.4,53.3 L720.4,52.9 L722.3,52.5 L724.3,52.1 L726.3,51.7 L728.2,51.4 L730.2,51.0 L732.2,50.6 L734.1,50.2 L736.1,49.8 L738.0,49.4 L740.0,49.0 L742.0,48.6 L743.9,48.2 L745.9,47.8 L747.8,47.4 L749.8,47.0 L751.8,46.6 L753.7,46.3 L755.7,45.9 L757.6,45.5 L759.6,45.1 L761.6,44.7 L763.5,44.3 L765.5,43.9 L767.5,43.5 L769.4,43.1 L771.4,42.7 L773.3,42.3 L775.3,41.9 L777.3,41.5 L779.2,41.2 L781.2,40.8 L783.1,40.4 L785.1,40.0 L787.1,39.6 L789.0,39.2 L791.0,38.8 L792.9,38.4 L794.9,38.0 L796.9,37.6 L798.8,37.2 L800.8,36.8 L802.8,36.4 L804.7,36.1 L806.7,35.7 L808.6,35.4 L810.6,35.2 L812.6,35.2 L814.6,35.3 L816.5,35.5 L818.5,35.7 L820.5,36.0 L822.5,36.3 L824.5,36.7 L826.4,37.0 L828.4,37.3 L830.4,37.6 L832.4,37.8 L834.4,38.0 L836.3,38.2 L838.3,38.3 L840.3,38.3 L842.3,38.2 L844.3,38.1 L846.3,37.9 L848.3,37.7 L850.3,37.5 L852.3,37.3 L854.3,37.0 L856.3,36.8 L858.2,36.6 L860.2,36.4 L862.2,36.2 L864.2,35.9 L866.2,35.7 L868.2,35.5 L870.2,35.3 L872.2,35.1 L874.1,34.8 L876.1,34.6 L878.1,34.4 L880.1,34.2 L882.1,34.0 L884.1,33.7 L886.1,33.5 L888.1,33.3 L890.0,33.0 L892.0,32.8 L894.0,32.6 L896.0,32.4 L898.0,32.1 L900.0,31.9 L902.0,31.7 L904.0,31.4 L905.9,31.2 L907.9,31.0 L909.9,30.8 L911.9,30.5 L913.9,30.3 L915.9,30.1 L917.9,29.8 L919.9,29.6 L921.8,29.4 L923.8,29.2 L925.8,29.0 L927.8,28.7 L929.8,28.5 L931.8,28.3 L933.8,28.1 L935.8,27.9 L937.7,27.6 L939.7,27.4 L941.7,27.2 L943.6,27.0" stroke="#0505d7"/>

</g>
<rect x="590.5" y="105.7" width="345.7" height="110.7" fill="#fff" stroke="#444" stroke-width="1.3"/>
<g stroke-width="4.5" stroke-linecap="round">
<line x1="610.8" y1="125.4" x2="672.6" y2="125.4" stroke="#000"/>
<line x1="610.8" y1="163" x2="672.6" y2="163" stroke="#e00a0a"/>
<line x1="610.8" y1="200.6" x2="672.6" y2="200.6" stroke="#0505d7"/>
</g>
<g font-size="27.5">
<text x="680.5" y="134.8">bovine - Hb</text>
<text x="680.5" y="172.7">PCL - Hb (1% PVA)</text>
<text x="680.5" y="210.4">PCL - Hb (5% PVA)</text>
</g>
<text transform="translate(267,779.6) scale(1,1.045)" font-size="33.7">Oxygen Partial Pressure (mmHg)</text>
<text transform="translate(28,531) rotate(-90) scale(1,1.045)" font-size="33.5">Oxygen Saturation(<tspan font-weight="normal">%</tspan>)</text>
</svg>
</body></html>
